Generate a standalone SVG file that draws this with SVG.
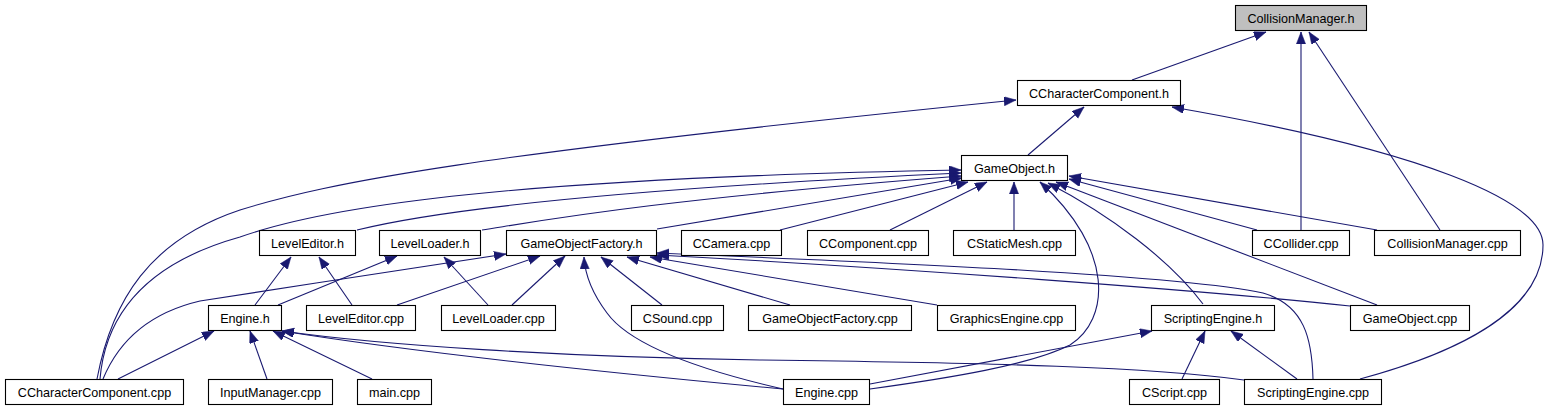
<svg xmlns="http://www.w3.org/2000/svg" width="1551" height="411" viewBox="0 0 1551 411">
<style>
.box{fill:#fff;stroke:#000;stroke-width:1.1}
.root{fill:#bfbfbf;stroke:#000;stroke-width:1.1}
text{font-family:"Liberation Sans",Arial,sans-serif;font-size:12.6px;fill:#000;text-anchor:middle}
.e{fill:none;stroke:#191970;stroke-width:1.1;marker-end:url(#ah)}
</style>
<defs>
<marker id="ah" markerUnits="userSpaceOnUse" markerWidth="13" markerHeight="10" refX="12" refY="4.6" orient="auto">
<path d="M0,0 L12,4.6 L0,9.2 z" fill="#191970" stroke="#191970" stroke-width="0.5"/>
</marker>
</defs>
<rect x="0" y="0" width="1551" height="411" fill="#fff"/>
<g id="connectors">
<path class="e" d="M1132,80 L1266,32"/>
<path class="e" d="M1301,230 L1301,32"/>
<path class="e" d="M1440,230 L1309,32"/>
<path class="e" d="M1028,155 L1084,107"/>
<path class="e" d="M97,379 C112,300 150,240 240,210 C330,182 470,155 1016,100"/>
<path class="e" d="M1360,379 C1460,352 1543,310 1543,245 C1543,200 1420,150 1172,107"/>
<path class="e" d="M357,230 C430,212 600,190 961,173"/>
<path class="e" d="M482,230 C540,221 650,200 961,176"/>
<path class="e" d="M657,229 L962,178"/>
<path class="e" d="M780,230 L968,182"/>
<path class="e" d="M890,230 L987,182"/>
<path class="e" d="M1014,230 L1014,182"/>
<path class="e" d="M1257,230 L1069,179"/>
<path class="e" d="M1377,230 L1069,176"/>
<path class="e" d="M1377,305 L1056,182"/>
<path class="e" d="M1203,304 C1170,260 1110,215 1048,183"/>
<path class="e" d="M870,389 C950,378 1030,365 1070,345 C1110,320 1115,250 1040,182"/>
<path class="e" d="M100,379 C105,320 140,265 240,237 C330,205 520,178 961,170"/>
<path class="e" d="M255,305 L291,257"/>
<path class="e" d="M352,305 L319,257"/>
<path class="e" d="M278,305 L397,256"/>
<path class="e" d="M488,305 L444,257"/>
<path class="e" d="M103,379 C115,350 140,315 200,301 C300,285 420,268 506,254"/>
<path class="e" d="M397,305 L540,256"/>
<path class="e" d="M512,305 L565,256"/>
<path class="e" d="M783,389 C700,370 630,345 607,313 C592,293 585,275 584,257"/>
<path class="e" d="M662,305 L601,257"/>
<path class="e" d="M790,305 L627,257"/>
<path class="e" d="M937,305 L650,257"/>
<path class="e" d="M1350,306 C1200,290 900,268 657,255"/>
<path class="e" d="M1313,379 C1312,340 1305,305 1263,293 C1180,275 900,263 657,253"/>
<path class="e" d="M118,379 L214,331"/>
<path class="e" d="M267,379 L250,331"/>
<path class="e" d="M372,379 L273,331"/>
<path class="e" d="M783,389 C600,372 400,350 282,331"/>
<path class="e" d="M1244,380 C1150,367 1000,363 760,360 C560,357 380,345 282,331"/>
<path class="e" d="M870,384 L1152,331"/>
<path class="e" d="M1182,379 L1205,331"/>
<path class="e" d="M1297,379 L1231,331"/>
</g>
<g id="n_CollisionManager_h"><rect class="root" x="1235.5" y="5.5" width="131" height="25"/><text x="1301" y="22.7">CollisionManager.h</text></g>
<g id="n_CCharacterComponent_h"><rect class="box" x="1017.5" y="80.5" width="163" height="25"/><text x="1099" y="97.7">CCharacterComponent.h</text></g>
<g id="n_GameObject_h"><rect class="box" x="961.5" y="155.5" width="106" height="25"/><text x="1014.5" y="172.7">GameObject.h</text></g>
<g id="n_LevelEditor_h"><rect class="box" x="259.5" y="230.5" width="96" height="25"/><text x="307.5" y="247.7">LevelEditor.h</text></g>
<g id="n_LevelLoader_h"><rect class="box" x="379.5" y="230.5" width="101" height="25"/><text x="430" y="247.7">LevelLoader.h</text></g>
<g id="n_GameObjectFactory_h"><rect class="box" x="506.5" y="230.5" width="150" height="25"/><text x="581.5" y="247.7">GameObjectFactory.h</text></g>
<g id="n_CCamera_cpp"><rect class="box" x="681.5" y="230.5" width="100" height="25"/><text x="731.5" y="247.7">CCamera.cpp</text></g>
<g id="n_CComponent_cpp"><rect class="box" x="807.5" y="230.5" width="121" height="25"/><text x="868" y="247.7">CComponent.cpp</text></g>
<g id="n_CStaticMesh_cpp"><rect class="box" x="953.5" y="230.5" width="122" height="25"/><text x="1014.5" y="247.7">CStaticMesh.cpp</text></g>
<g id="n_CCollider_cpp"><rect class="box" x="1252.5" y="230.5" width="97" height="25"/><text x="1301" y="247.7">CCollider.cpp</text></g>
<g id="n_CollisionManager_cpp"><rect class="box" x="1374.5" y="230.5" width="146" height="25"/><text x="1447.5" y="247.7">CollisionManager.cpp</text></g>
<g id="n_Engine_h"><rect class="box" x="208.5" y="305.5" width="73" height="25"/><text x="245" y="322.7">Engine.h</text></g>
<g id="n_LevelEditor_cpp"><rect class="box" x="306.5" y="305.5" width="109" height="25"/><text x="361" y="322.7">LevelEditor.cpp</text></g>
<g id="n_LevelLoader_cpp"><rect class="box" x="441.5" y="305.5" width="114" height="25"/><text x="498.5" y="322.7">LevelLoader.cpp</text></g>
<g id="n_CSound_cpp"><rect class="box" x="631.5" y="305.5" width="92" height="25"/><text x="677.5" y="322.7">CSound.cpp</text></g>
<g id="n_GameObjectFactory_cpp"><rect class="box" x="748.5" y="305.5" width="163" height="25"/><text x="830" y="322.7">GameObjectFactory.cpp</text></g>
<g id="n_GraphicsEngine_cpp"><rect class="box" x="937.5" y="305.5" width="138" height="25"/><text x="1006.5" y="322.7">GraphicsEngine.cpp</text></g>
<g id="n_ScriptingEngine_h"><rect class="box" x="1151.5" y="305.5" width="123" height="25"/><text x="1213" y="322.7">ScriptingEngine.h</text></g>
<g id="n_GameObject_cpp"><rect class="box" x="1350.5" y="305.5" width="119" height="25"/><text x="1410" y="322.7">GameObject.cpp</text></g>
<g id="n_CCharacterComponent_cpp"><rect class="box" x="5.5" y="379.5" width="178" height="25"/><text x="94.5" y="396.7">CCharacterComponent.cpp</text></g>
<g id="n_InputManager_cpp"><rect class="box" x="208.5" y="379.5" width="124" height="25"/><text x="270.5" y="396.7">InputManager.cpp</text></g>
<g id="n_main_cpp"><rect class="box" x="357.5" y="379.5" width="74" height="25"/><text x="394.5" y="396.7">main.cpp</text></g>
<g id="n_Engine_cpp"><rect class="box" x="783.5" y="379.5" width="86" height="25"/><text x="826.5" y="396.7">Engine.cpp</text></g>
<g id="n_CScript_cpp"><rect class="box" x="1129.5" y="379.5" width="90" height="25"/><text x="1174.5" y="396.7">CScript.cpp</text></g>
<g id="n_ScriptingEngine_cpp"><rect class="box" x="1244.5" y="379.5" width="137" height="25"/><text x="1313" y="396.7">ScriptingEngine.cpp</text></g>
</svg>
